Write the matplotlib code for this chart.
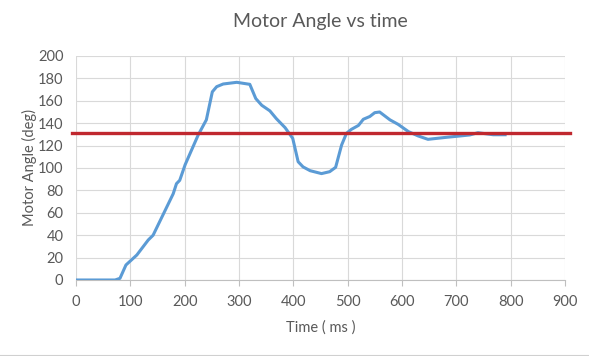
import numpy as np
import matplotlib.pyplot as plt
from matplotlib.lines import Line2D

plt.rcParams['font.family'] = ['Lato', 'DejaVu Sans']

time_ms = [0, 72, 81, 92, 112, 133, 142, 151, 179, 185, 191, 201, 225, 240, 251, 259,
           271, 296, 320, 331, 342, 357, 369, 385, 399, 409, 418, 431, 452, 467, 478,
           489, 498, 507, 520, 529, 541, 550, 559, 578, 593, 612, 630, 648, 682, 707,
           725, 740, 768, 790]
angle = [0, 0, 1.5, 13.4, 22.3, 35.7, 40, 49, 77, 86, 89, 103, 129.5, 143, 168, 172.6,
         175, 176.5, 174.7, 162, 156, 151, 144, 136, 126.5, 105.6, 101, 97.6, 95, 96.7,
         100.6, 120.5, 131, 134.5, 138, 143.5, 146, 149.4, 150, 143, 139, 132.5, 128.6,
         125.6, 127.4, 128.6, 129.5, 131.5, 129.7, 129.7]
target_x = [-8, 910]
target_y = [131, 131]

fig = plt.figure(figsize=(5.89, 3.56), dpi=100)
ax = fig.add_axes([0.129, 0.2135, 0.830, 0.6292])

txt = '#595959'
grid = '#d9d9d9'

ax.plot(time_ms, angle, color='#5b9bd5', lw=2.2, solid_joinstyle='round', zorder=3)
ax.plot(target_x, target_y, color='#c0282f', lw=2.4, clip_on=False, zorder=4)

ax.set_xlim(0, 900)
ax.set_ylim(0, 200)
ax.set_xticks(np.arange(0, 901, 100))
ax.set_yticks(np.arange(0, 201, 20))
ax.grid(True, color=grid, lw=0.8)
ax.set_axisbelow(True)
for s in ['top', 'right', 'left']:
    ax.spines[s].set_visible(False)
ax.spines['bottom'].set_color('#bfbfbf')
ax.tick_params(axis='x', colors=txt, labelsize=10.5, length=4, color='#bfbfbf', pad=7)
ax.tick_params(axis='y', colors=txt, labelsize=10.5, length=0, pad=9)

ax.set_title('Motor Angle vs time', color=txt, fontsize=14, pad=21)
ax.set_xlabel('Time ( ms )', color=txt, fontsize=10.5, labelpad=8)
ax.set_ylabel('Motor Angle (deg)', color=txt, fontsize=10.5, labelpad=1)

fig.add_artist(Line2D([0, 1], [0.004, 0.004], color='#d0d0d0', lw=0.8))

fig.savefig('out.png', dpi=100)
